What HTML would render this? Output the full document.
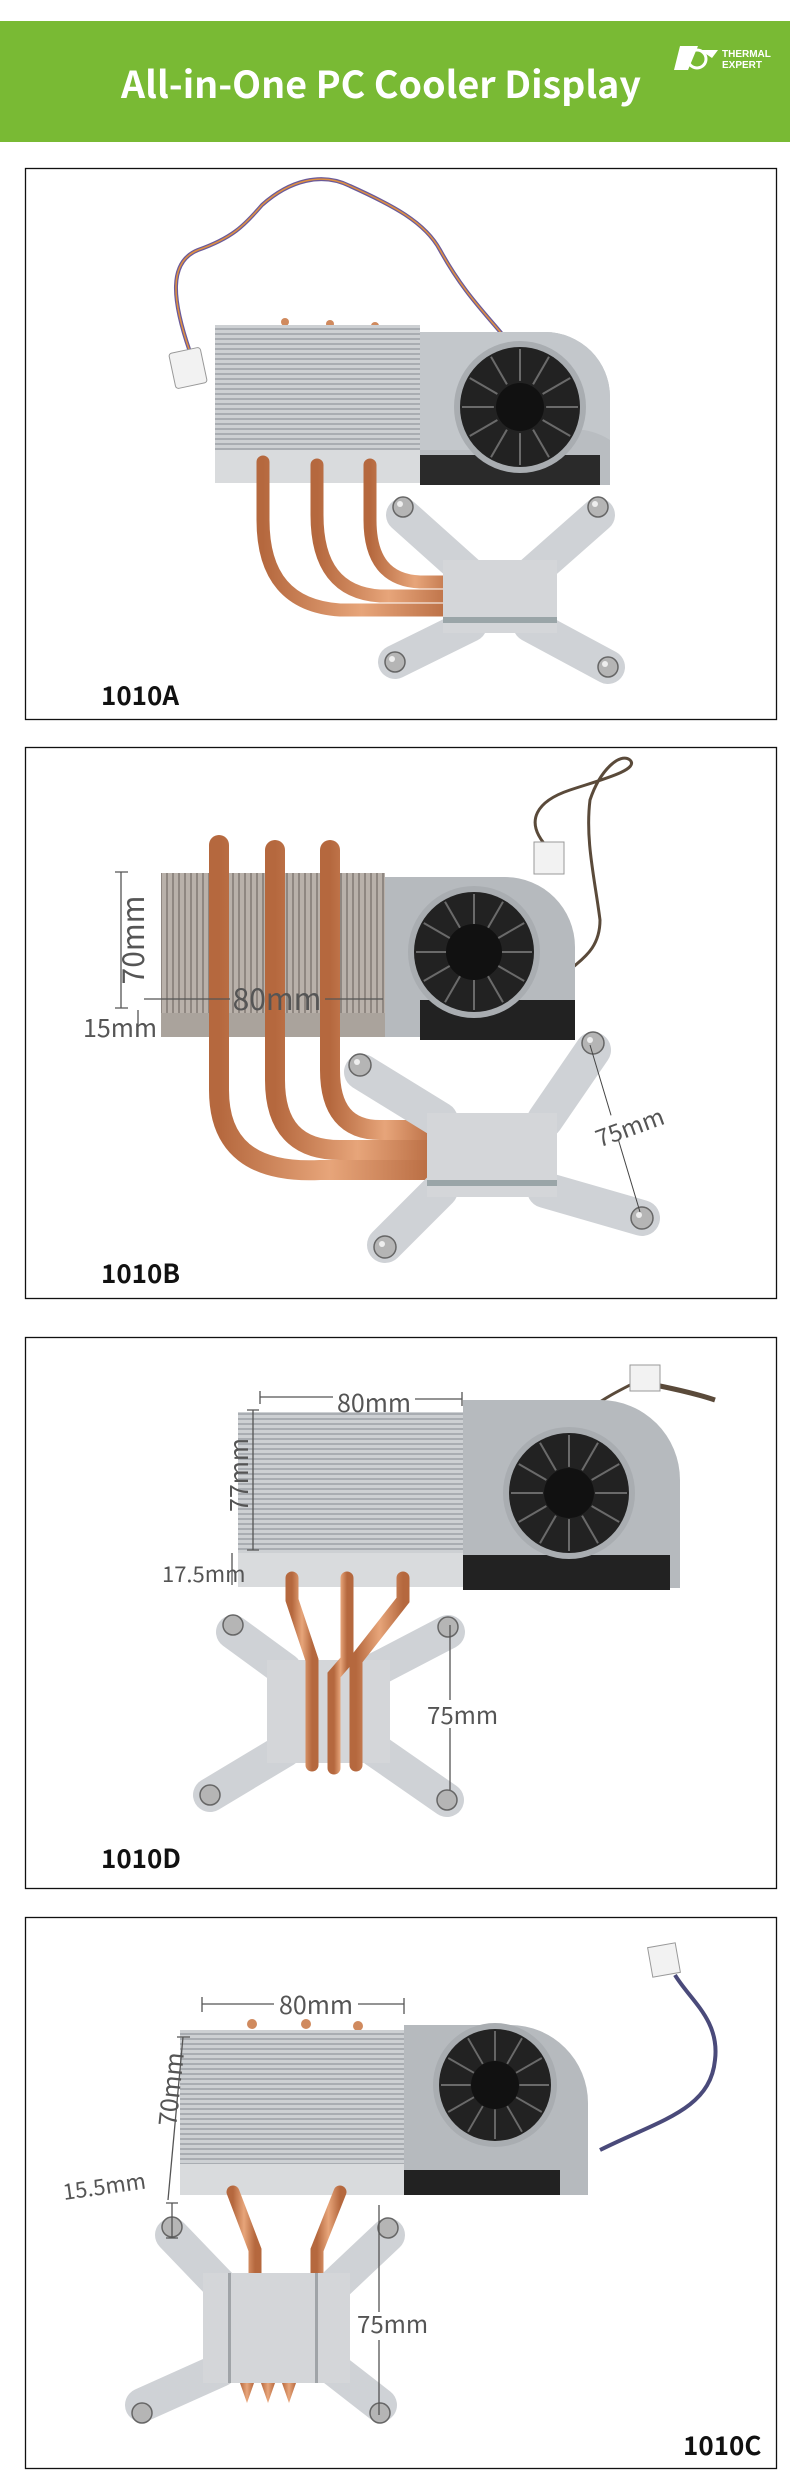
<!DOCTYPE html>
<html><head><meta charset="utf-8"><style>
html,body{margin:0;padding:0;background:#fff}
svg{display:block}
.lbl{font-family:"Noto Sans CJK SC","Liberation Sans",sans-serif;font-weight:700;font-size:26px;fill:#111}
.dim{font-family:"Noto Sans CJK SC","Liberation Sans",sans-serif;font-weight:400;fill:#555}
</style></head><body>
<svg width="790" height="2484" viewBox="0 0 790 2484" xmlns="http://www.w3.org/2000/svg">
<defs>
<pattern id="finH" width="6" height="5" patternUnits="userSpaceOnUse"><rect width="6" height="5" fill="#cdd0d3"/><rect y="3" width="6" height="2" fill="#a9adb2"/></pattern>
<pattern id="finV" width="6" height="6" patternUnits="userSpaceOnUse"><rect width="6" height="6" fill="#b9b1aa"/><rect x="4" width="2" height="6" fill="#8f8781"/></pattern>
<linearGradient id="cu" x1="0" x2="1"><stop offset="0" stop-color="#b5683e"/><stop offset=".5" stop-color="#e7a57a"/><stop offset="1" stop-color="#b5683e"/></linearGradient>
<g id="blades" stroke="#6a6a6a" stroke-width="0.035">
<line x1="0" y1="-1" x2="0" y2="-0.45" transform="rotate(0)"/><line x1="0" y1="-1" x2="0" y2="-0.45" transform="rotate(30)"/><line x1="0" y1="-1" x2="0" y2="-0.45" transform="rotate(60)"/><line x1="0" y1="-1" x2="0" y2="-0.45" transform="rotate(90)"/><line x1="0" y1="-1" x2="0" y2="-0.45" transform="rotate(120)"/><line x1="0" y1="-1" x2="0" y2="-0.45" transform="rotate(150)"/><line x1="0" y1="-1" x2="0" y2="-0.45" transform="rotate(180)"/><line x1="0" y1="-1" x2="0" y2="-0.45" transform="rotate(210)"/><line x1="0" y1="-1" x2="0" y2="-0.45" transform="rotate(240)"/><line x1="0" y1="-1" x2="0" y2="-0.45" transform="rotate(270)"/><line x1="0" y1="-1" x2="0" y2="-0.45" transform="rotate(300)"/><line x1="0" y1="-1" x2="0" y2="-0.45" transform="rotate(330)"/>
</g>
</defs>

<!-- header -->
<rect x="0" y="21" width="790" height="121" fill="#79ba34"/>
<text x="381" y="98" text-anchor="middle" textLength="520" lengthAdjust="spacingAndGlyphs" font-family="'Noto Sans CJK SC','Liberation Sans',sans-serif" font-weight="700" font-size="37" fill="#fff">All-in-One PC Cooler Display</text>
<g fill="#fff">
<polygon points="680,46 698,46 688,70 674,70"/>
<circle cx="697" cy="59" r="9" fill="none" stroke="#fff" stroke-width="3"/>
<polygon points="700,50 718,50 712,58"/>
<text x="722" y="57" font-family="'Liberation Sans Narrow','Liberation Sans',sans-serif" font-size="10" font-weight="700">THERMAL</text>
<text x="722" y="68" font-family="'Liberation Sans Narrow','Liberation Sans',sans-serif" font-size="10" font-weight="700">EXPERT</text>
</g>

<!-- panels -->
<g fill="none" stroke="#111" stroke-width="1.3">
<rect x="25.5" y="168.5" width="751" height="551"/>
<rect x="25.5" y="747.5" width="751" height="551"/>
<rect x="25.5" y="1337.5" width="751" height="551"/>
<rect x="25.5" y="1917.5" width="751" height="551"/>
</g>

<!-- ===== Panel A ===== -->
<path d="M190,352 C172,300 168,262 198,250 C232,238 244,226 262,205 C290,180 322,172 350,186 C392,205 425,222 440,250 C462,290 482,310 502,334" fill="none" stroke="#6a5a9a" stroke-width="4"/>
<path d="M190,352 C172,300 168,262 198,250 C232,238 244,226 262,205 C290,180 322,172 350,186 C392,205 425,222 440,250 C462,290 482,310 502,334" fill="none" stroke="#e09040" stroke-width="1.5"/>
<rect x="172" y="350" width="32" height="36" rx="3" fill="#f2f2f2" stroke="#999" transform="rotate(-12 188 368)"/>
<circle cx="285" cy="322" r="4" fill="#d08a5e"/><circle cx="330" cy="324" r="4" fill="#d08a5e"/><circle cx="375" cy="326" r="4" fill="#d08a5e"/>
<rect x="215" y="325" width="205" height="125" fill="url(#finH)"/>
<rect x="215" y="450" width="205" height="33" fill="#d9dbdd"/>
<path d="M420,332 H545 A65 65 0 0 1 610,397 V485 H420 Z" fill="#b9bdc1"/>
<path d="M420,455 H600 V485 H420 Z" fill="#2a2a2a"/>
<path d="M420,332 H545 A65 65 0 0 1 610,397 V440 C580,420 540,430 490,450 H420 Z" fill="#c3c7cb"/>
<circle cx="520" cy="407" r="66" fill="#a9adb1"/>
<circle cx="520" cy="407" r="60" fill="#222"/><use href="#blades" transform="translate(520 407) scale(58)"/><circle cx="520" cy="407" r="24" fill="#111"/>
<g fill="none" stroke="url(#cu)" stroke-width="13" stroke-linecap="round">
<path d="M263,462 V520 Q263,605 340,610 H460"/>
<path d="M317,465 V515 Q317,592 380,596 H460"/>
<path d="M370,465 V520 Q370,580 420,582 H460"/>
</g>
<g stroke="#cfd2d6" stroke-width="34" stroke-linecap="round"><line x1="403" y1="515" x2="470" y2="575"/><line x1="598" y1="515" x2="530" y2="575"/><line x1="395" y1="662" x2="470" y2="625"/><line x1="608" y1="667" x2="530" y2="625"/></g>
<rect x="443" y="560" width="114" height="73" fill="#d4d6d9"/>
<rect x="443" y="617" width="114" height="6" fill="#9aa5a8"/>
<g fill="none" stroke="url(#cu)" stroke-width="8" stroke-linecap="round"><path d="M557,580 H565"/><path d="M557,595 H565"/><path d="M557,610 H565"/></g>
<g fill="#b5b5b5" stroke="#666" stroke-width="1.5"><circle cx="403" cy="507" r="10"/><circle cx="598" cy="507" r="10"/><circle cx="395" cy="662" r="10"/><circle cx="608" cy="667" r="10"/></g>
<g fill="#eee"><circle cx="400" cy="504" r="3"/><circle cx="595" cy="504" r="3"/><circle cx="392" cy="659" r="3"/><circle cx="605" cy="664" r="3"/></g>
<text class="lbl" x="101" y="705">1010A</text>

<!-- ===== Panel B ===== -->
<path d="M550,850 C520,820 540,800 570,790 C600,780 640,770 630,760 C620,752 600,770 590,800 C585,840 595,880 600,920 C600,950 580,960 570,970" fill="none" stroke="#5a4a3a" stroke-width="3"/>
<rect x="534" y="842" width="30" height="32" fill="#f2f2f2" stroke="#999"/>
<rect x="161" y="873" width="224" height="140" fill="url(#finV)"/>
<rect x="161" y="1013" width="224" height="24" fill="#aaa39c"/>
<path d="M385,877 H505 A70 70 0 0 1 575,947 V1037 H385 Z" fill="#b6babe"/>
<path d="M420,1000 H575 V1040 H420 Z" fill="#222"/>
<circle cx="474" cy="952" r="66" fill="#a9adb1"/>
<circle cx="474" cy="952" r="60" fill="#222"/><use href="#blades" transform="translate(474 952) scale(58)"/><circle cx="474" cy="952" r="28" fill="#111"/>
<g fill="none" stroke="url(#cu)" stroke-width="20" stroke-linecap="round">
<path d="M219,845 V1090 Q219,1175 320,1170 H440"/>
<path d="M275,850 V1080 Q275,1150 340,1150 H440"/>
<path d="M330,850 V1070 Q330,1130 380,1130 H440"/>
</g>
<g fill="none" stroke="url(#cu)" stroke-width="9" stroke-linecap="round"><path d="M557,1130 H572"/><path d="M557,1148 H575"/><path d="M557,1166 H572"/></g>
<g stroke="#cfd2d6" stroke-width="36" stroke-linecap="round"><line x1="362" y1="1072" x2="440" y2="1120"/><line x1="593" y1="1050" x2="545" y2="1120"/><line x1="385" y1="1245" x2="440" y2="1190"/><line x1="642" y1="1218" x2="545" y2="1190"/></g>
<rect x="427" y="1113" width="130" height="84" fill="#d4d6d9"/>
<rect x="427" y="1180" width="130" height="6" fill="#9aa5a8"/>
<g fill="#b5b5b5" stroke="#666" stroke-width="1.5"><circle cx="360" cy="1065" r="11"/><circle cx="593" cy="1043" r="11"/><circle cx="385" cy="1247" r="11"/><circle cx="642" cy="1218" r="11"/></g>
<g fill="#eee"><circle cx="357" cy="1062" r="3"/><circle cx="590" cy="1040" r="3"/><circle cx="382" cy="1244" r="3"/><circle cx="639" cy="1215" r="3"/></g>
<g stroke="#555" stroke-width="1.3" fill="none"><path d="M121,872 V1008 M115,872 H128 M115,1008 H128"/><path d="M144,999 H230 M325,999 H383"/><path d="M138,1010 V1037"/></g>
<text class="dim" x="0" y="0" font-size="30" fill="#666" transform="translate(144,940) rotate(-90)" text-anchor="middle">70mm</text>
<text class="dim" x="277" y="1010" font-size="30" fill="#666" text-anchor="middle">80mm</text>
<text class="dim" x="83" y="1037" font-size="25">15mm</text>
<line x1="590" y1="1045" x2="640" y2="1212" stroke="#444" stroke-width="1"/>
<rect x="600" y="1110" width="56" height="26" fill="#fff" transform="rotate(-20 628 1123)"/>
<text class="dim" x="630" y="1136" font-size="24" fill="#444" text-anchor="middle" transform="rotate(-20 630 1128)">75mm</text>
<text class="lbl" x="101" y="1283">1010B</text>

<!-- ===== Panel D ===== -->
<path d="M640,1380 C620,1390 600,1400 590,1410" fill="none" stroke="#5a4a3a" stroke-width="3"/>
<path d="M655,1385 C680,1390 700,1395 715,1400" fill="none" stroke="#5a4a3a" stroke-width="5"/>
<rect x="630" y="1365" width="30" height="26" fill="#f2f2f2" stroke="#999"/>
<rect x="238" y="1412" width="225" height="141" fill="url(#finH)"/>
<rect x="238" y="1553" width="225" height="34" fill="#d9dbdd"/>
<path d="M463,1400 H600 A80 80 0 0 1 680,1480 V1588 H463 Z" fill="#b6babe"/>
<path d="M463,1555 H670 V1590 H463 Z" fill="#222"/>
<circle cx="569" cy="1493" r="66" fill="#a9adb1"/>
<circle cx="569" cy="1493" r="60" fill="#222"/><use href="#blades" transform="translate(569 1493) scale(58)"/><circle cx="569" cy="1493" r="25" fill="#111"/>
<g stroke="#cfd2d6" stroke-width="34" stroke-linecap="round"><line x1="233" y1="1632" x2="285" y2="1670"/><line x1="448" y1="1632" x2="375" y2="1670"/><line x1="210" y1="1795" x2="285" y2="1750"/><line x1="447" y1="1800" x2="375" y2="1750"/></g>
<rect x="267" y="1660" width="123" height="103" fill="#d4d6d9"/>
<g fill="none" stroke="url(#cu)" stroke-width="13" stroke-linecap="round">
<path d="M292,1578 V1600 L312,1660 V1765"/>
<path d="M347,1578 V1660 L334,1675 V1768" />
<path d="M403,1578 V1600 L356,1660 V1765"/>
</g>
<g fill="#b5b5b5" stroke="#666" stroke-width="1.5"><circle cx="233" cy="1625" r="10"/><circle cx="448" cy="1627" r="10"/><circle cx="210" cy="1795" r="10"/><circle cx="447" cy="1800" r="10"/></g>
<g stroke="#555" stroke-width="1.3" fill="none"><path d="M260,1391 V1404 M260,1397 H333 M415,1399 H462 M462,1392 V1406"/><path d="M253,1410 V1550 M247,1410 H259 M247,1550 H259"/><path d="M232,1553 V1585"/><path d="M450,1625 V1700 M450,1728 V1790"/></g>
<text class="dim" x="374" y="1412" font-size="25" text-anchor="middle">80mm</text>
<text class="dim" font-size="25" text-anchor="middle" transform="translate(248,1475) rotate(-90)">77mm</text>
<text class="dim" x="162" y="1582" font-size="22">17.5mm</text>
<text class="dim" x="427" y="1724" font-size="24">75mm</text>
<text class="lbl" x="101" y="1868">1010D</text>

<!-- ===== Panel C ===== -->
<path d="M675,1975 C690,2000 720,2020 715,2060 C710,2110 660,2120 600,2150" fill="none" stroke="#4a4a7a" stroke-width="4"/>
<rect x="650" y="1945" width="28" height="30" fill="#f2f2f2" stroke="#999" transform="rotate(-10 664 1960)"/>
<circle cx="252" cy="2024" r="5" fill="#d08a5e"/><circle cx="306" cy="2024" r="5" fill="#d08a5e"/><circle cx="358" cy="2026" r="5" fill="#d08a5e"/>
<rect x="180" y="2030" width="224" height="134" fill="url(#finH)"/>
<rect x="180" y="2164" width="224" height="31" fill="#d9dbdd"/>
<path d="M404,2025 H510 A78 78 0 0 1 588,2103 V2195 H404 Z" fill="#b6babe"/>
<path d="M404,2170 H560 V2195 H404 Z" fill="#222"/>
<circle cx="495" cy="2085" r="62" fill="#a9adb1"/>
<circle cx="495" cy="2085" r="56" fill="#222"/><use href="#blades" transform="translate(495 2085) scale(54)"/><circle cx="495" cy="2085" r="24" fill="#111"/>
<g fill="none" stroke="url(#cu)" stroke-width="13" stroke-linecap="round">
<path d="M233,2192 L255,2250 V2280"/>
<path d="M288,2192 V2280"/>
<path d="M340,2192 L317,2250 V2280"/>
</g>
<g stroke="#cfd2d6" stroke-width="34" stroke-linecap="round"><line x1="172" y1="2235" x2="220" y2="2285"/><line x1="388" y1="2235" x2="335" y2="2285"/><line x1="142" y1="2405" x2="220" y2="2370"/><line x1="380" y1="2405" x2="335" y2="2370"/></g>
<rect x="203" y="2273" width="147" height="110" fill="#d4d6d9"/>
<rect x="228" y="2273" width="3" height="110" fill="#a0a4a8"/><rect x="315" y="2273" width="3" height="110" fill="#a0a4a8"/>
<g fill="url(#cu)"><path d="M240,2383 h14 l-7,20 z"/><path d="M261,2383 h14 l-7,20 z"/><path d="M282,2383 h14 l-7,20 z"/></g>
<g fill="#b5b5b5" stroke="#666" stroke-width="1.5"><circle cx="172" cy="2227" r="10"/><circle cx="388" cy="2228" r="10"/><circle cx="142" cy="2413" r="10"/><circle cx="380" cy="2413" r="10"/></g>
<g stroke="#555" stroke-width="1.3" fill="none"><path d="M202,1997 V2012 M202,2004 H274 M358,2004 H404 M404,1998 V2014"/><path d="M183,2037 L168,2200 M177,2037 H190"/><path d="M172,2203 V2238 M166,2203 H178 M166,2238 H178"/><path d="M379,2205 V2312 M379,2340 V2415"/></g>
<text class="dim" x="316" y="2014" font-size="25" text-anchor="middle">80mm</text>
<text class="dim" font-size="25" text-anchor="middle" transform="translate(180,2090) rotate(-84)">70mm</text>
<text class="dim" font-size="22" transform="translate(64,2200) rotate(-8)">15.5mm</text>
<text class="dim" x="357" y="2333" font-size="24">75mm</text>
<text class="lbl" x="683" y="2455">1010C</text>
</svg>
</body></html>
